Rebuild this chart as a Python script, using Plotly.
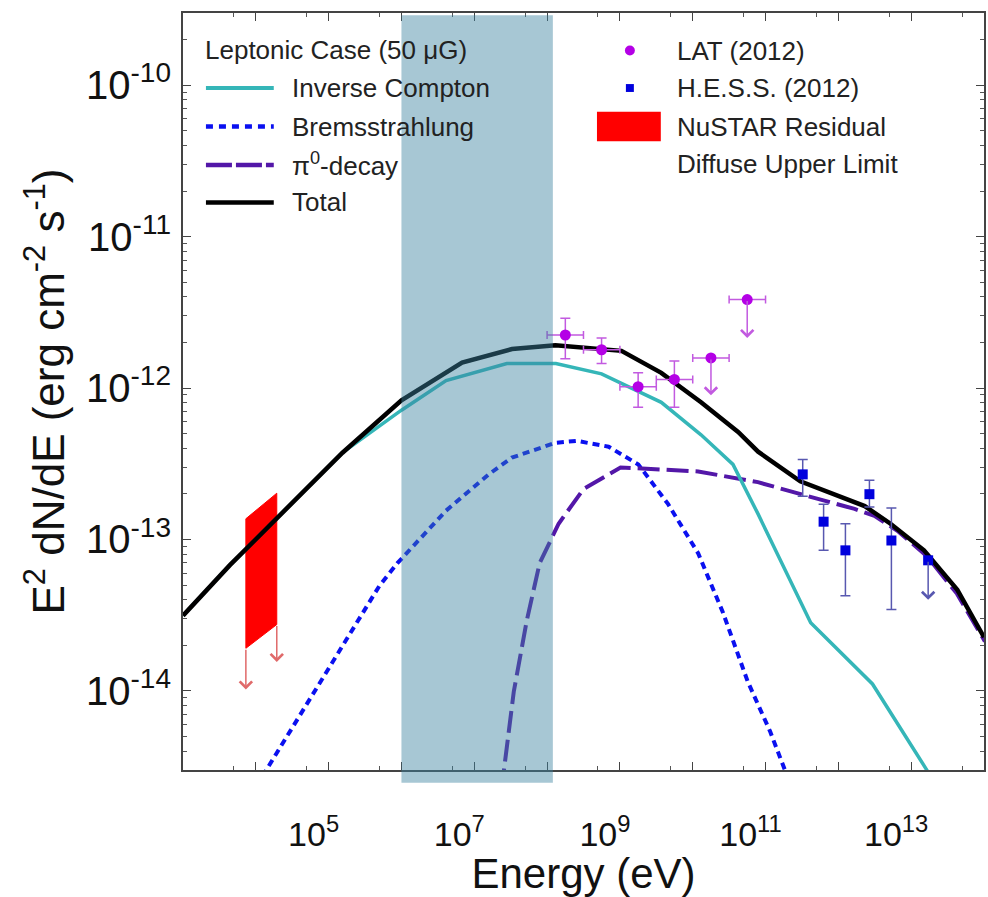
import numpy as np
import plotly.graph_objects as go

# ---------------- model spectra (E in eV, E^2 dN/dE in erg cm^-2 s^-1) ----------------
ic_e = [1.0e3, 4.4e3, 1.55e5, 1.0e6, 4.1e6, 2.8e7, 1.32e8, 5.6e8, 3.7e9, 1.3e10,
        3.57e10, 7.85e10, 4.17e11, 2.94e12, 1.66e13, 2.2e13]
ic_f = [3.14e-14, 6.76e-14, 3.74e-13, 7.14e-13, 1.12e-12, 1.45e-12, 1.45e-12, 1.24e-12,
        8.05e-13, 4.91e-13, 3.13e-13, 1.48e-13, 2.82e-14, 1.11e-14, 2.97e-15, 2.0e-15]

brems_e = [8.3e3, 1.37e4, 4.97e5, 8.8e5, 4.1e6, 1.58e7, 3.28e7, 1.31e8, 2.54e8, 6.97e8,
           1.79e9, 4.6e9, 1.19e10, 2.6e10, 5.7e10, 1.15e11, 1.84e11, 2.36e11]
brems_f = [2.0e-15, 2.97e-15, 4.93e-14, 6.97e-14, 1.55e-13, 2.69e-13, 3.47e-13, 4.35e-13,
           4.48e-13, 4.10e-13, 3.13e-13, 1.71e-13, 8.09e-14, 3.29e-14, 1.15e-14, 5.42e-15,
           2.97e-15, 2.2e-15]

pi0_e = [2.39e7, 2.55e7, 3.49e7, 5.26e7, 7.9e7, 1.44e8, 3.16e8, 1.02e9, 1.19e10, 7.85e10,
         3.04e11, 1.67e12, 3.13e12, 6.46e12, 1.66e13, 4.27e13, 1.03e14]
pi0_f = [2.2e-15, 2.97e-15, 9.9e-15, 2.91e-14, 6.97e-14, 1.27e-13, 2.15e-13, 2.99e-13,
         2.81e-13, 2.39e-13, 1.99e-13, 1.59e-13, 1.43e-13, 1.14e-13, 7.73e-14, 4.37e-14,
         2.12e-14]

total_e = [1.0e3, 4.4e3, 1.55e5, 1.0e6, 6.8e6, 3.3e7, 1.3e8, 1.05e9, 3.7e9, 1.3e10,
           4.2e10, 7.9e10, 3.0e11, 2.3e12, 5.2e12, 1.5e13, 4.3e13, 1.0e14]
total_f = [3.14e-14, 6.76e-14, 3.74e-13, 8.30e-13, 1.47e-12, 1.81e-12, 1.92e-12, 1.76e-12,
           1.26e-12, 8.05e-13, 5.13e-13, 3.80e-13, 2.42e-13, 1.66e-13, 1.27e-13, 8.47e-14,
           4.65e-14, 2.26e-14]

# ---------------- Fermi-LAT (2012) ----------------
lat_e = [1.78e8, 5.6e8, 1.78e9, 5.6e9, 1.78e10, 5.6e10]
lat_e_lo = [1.0e8, 3.16e8, 1.0e9, 3.16e9, 1.0e10, 3.16e10]
lat_e_hi = [3.16e8, 1.0e9, 3.16e9, 1.0e10, 3.16e10, 1.0e11]
lat_f = [2.24e-12, 1.79e-12, 1.02e-12, 1.14e-12, 1.58e-12, 3.84e-12]
lat_f_hi = [2.89e-12, 2.14e-12, 1.26e-12, 1.51e-12]      # detections only
lat_f_lo = [1.56e-12, 1.45e-12, 7.46e-13, 7.46e-13]
lat_ul_to = [8.95e-13, 2.14e-12]                          # arrow ends of the two limits

# ---------------- H.E.S.S. (2012) ----------------
hess_e = [3.24e11, 6.27e11, 1.25e12, 2.67e12, 5.35e12, 1.71e13]
hess_f = [2.69e-13, 1.31e-13, 8.47e-14, 1.99e-13, 9.84e-14, 7.28e-14]
hess_f_hi = [3.37e-13, 1.71e-13, 1.27e-13, 2.46e-13, 1.61e-13]
hess_f_lo = [1.93e-13, 8.47e-14, 4.25e-14, 1.64e-13, 3.44e-14]
hess_ul_to = [3.99e-14]

# ---------------- NuSTAR residual diffuse upper limit ----------------
nu_e = [7.3e3, 1.94e4]
nu_f_top = [1.37e-13, 2.02e-13]
nu_f_bot = [1.91e-14, 2.74e-14]
nu_ul_to = [1.02e-14, 1.55e-14]

# shaded energy band
band_e = [1.0e6, 1.2e8]

# tick labels
x_tick_exp = list(range(3, 15))
x_labelled = [5, 7, 9, 11, 13]
y_tick_exp = [-14, -13, -12, -11, -10]

# ---------------- styling ----------------
FONT = "Liberation Sans, Arial, Helvetica, sans-serif"
C_IC = "#35b6b8"
C_BREMS = "#0a10f0"
C_PI0 = "#5317a8"
C_TOT = "#000000"
C_LAT = "#b400e6"
C_LAT_BAR = "#c25ae0"
C_HESS = "#0000dd"
C_HESS_BAR = "#5858b0"
C_NU = "#ff0000"
C_NU_ARR = "#e06a6a"
TXT = "#222222"

# plot-area edges in page pixels (for legend placement)
L, R, T, B = 183, 986, 13, 780
W, H = 988, 897


def px(x):
    return (x - L) / (R - L)


def py(y):
    return (B - y) / (B - T)


fig = go.Figure()

# NuSTAR box
fig.add_trace(go.Scatter(
    x=[nu_e[0], nu_e[1], nu_e[1], nu_e[0], nu_e[0]],
    y=[nu_f_top[0], nu_f_top[1], nu_f_bot[1], nu_f_bot[0], nu_f_top[0]],
    fill="toself", fillcolor=C_NU, line=dict(color=C_NU, width=1),
    mode="lines", hoverinfo="skip", showlegend=False))

# model curves
fig.add_trace(go.Scatter(x=brems_e, y=brems_f, mode="lines",
                         line=dict(color=C_BREMS, width=4, dash="7px,5px"), showlegend=False))
fig.add_trace(go.Scatter(x=pi0_e, y=pi0_f, mode="lines",
                         line=dict(color=C_PI0, width=4, dash="22px,7px"), showlegend=False))
fig.add_trace(go.Scatter(x=ic_e, y=ic_f, mode="lines",
                         line=dict(color=C_IC, width=3.5), showlegend=False))
fig.add_trace(go.Scatter(x=total_e, y=total_f, mode="lines",
                         line=dict(color=C_TOT, width=4.5), showlegend=False))

# LAT detections
n_det = len(lat_f_hi)
fig.add_trace(go.Scatter(
    x=lat_e[:n_det], y=lat_f[:n_det], mode="markers",
    marker=dict(symbol="circle", size=11, color=C_LAT),
    error_x=dict(type="data", symmetric=False,
                 array=[h - e for h, e in zip(lat_e_hi[:n_det], lat_e[:n_det])],
                 arrayminus=[e - lo for e, lo in zip(lat_e[:n_det], lat_e_lo[:n_det])],
                 color=C_LAT_BAR, thickness=1.5, width=4),
    error_y=dict(type="data", symmetric=False,
                 array=[h - f for h, f in zip(lat_f_hi, lat_f[:n_det])],
                 arrayminus=[f - lo for f, lo in zip(lat_f[:n_det], lat_f_lo)],
                 color=C_LAT_BAR, thickness=1.5, width=5),
    showlegend=False))
# LAT upper limits
fig.add_trace(go.Scatter(
    x=lat_e[n_det:], y=lat_f[n_det:], mode="markers",
    marker=dict(symbol="circle", size=11, color=C_LAT),
    error_x=dict(type="data", symmetric=False,
                 array=[h - e for h, e in zip(lat_e_hi[n_det:], lat_e[n_det:])],
                 arrayminus=[e - lo for e, lo in zip(lat_e[n_det:], lat_e_lo[n_det:])],
                 color=C_LAT_BAR, thickness=1.5, width=4),
    showlegend=False))

# H.E.S.S. detections
h_det = len(hess_f_hi)
fig.add_trace(go.Scatter(
    x=hess_e[:h_det], y=hess_f[:h_det], mode="markers",
    marker=dict(symbol="square", size=10, color=C_HESS),
    error_y=dict(type="data", symmetric=False,
                 array=[h - f for h, f in zip(hess_f_hi, hess_f[:h_det])],
                 arrayminus=[f - lo for f, lo in zip(hess_f[:h_det], hess_f_lo)],
                 color=C_HESS_BAR, thickness=1.5, width=5),
    showlegend=False))
fig.add_trace(go.Scatter(
    x=hess_e[h_det:], y=hess_f[h_det:], mode="markers",
    marker=dict(symbol="square", size=10, color=C_HESS), showlegend=False))

annotations = []


def ul_arrow(e, f_from, f_to, color):
    return dict(x=np.log10(e), y=np.log10(f_to), ax=np.log10(e), ay=np.log10(f_from),
                xref="x", yref="y", axref="x", ayref="y", text="", showarrow=True,
                arrowhead=4, arrowsize=1.6, arrowwidth=1.5, arrowcolor=color)


for e, f0, f1 in zip(lat_e[n_det:], lat_f[n_det:], lat_ul_to):
    annotations.append(ul_arrow(e, f0, f1, C_LAT_BAR))
for e, f0, f1 in zip(hess_e[h_det:], hess_f[h_det:], hess_ul_to):
    annotations.append(ul_arrow(e, f0, f1, C_HESS_BAR))
for e, f0, f1 in zip(nu_e, nu_f_bot, nu_ul_to):
    annotations.append(ul_arrow(e, f0, f1, C_NU_ARR))

shapes = []
# translucent energy band drawn over the curves
shapes.append(dict(type="rect", xref="x", yref="paper", x0=band_e[0], x1=band_e[1],
                   y0=-0.017, y1=0.997, fillcolor="rgba(60,131,160,0.45)",
                   line=dict(width=0), layer="above"))

# ---- legend (left block: model components) ----
def legend_text(x, y, text):
    annotations.append(dict(x=px(x), y=py(y), xref="paper", yref="paper", text=text,
                            showarrow=False, xanchor="left", yanchor="middle",
                            font=dict(family=FONT, size=26, color=TXT)))


legend_text(203, 50, "Leptonic Case (50 \u03bcG)")
rows = [(89, "Inverse Compton", C_IC, "solid", 4),
        (128, "Bremsstrahlung", C_BREMS, "7px,6px", 4.5),
        (167, "\u03c0<sup>0</sup>-decay", C_PI0, "26px,4px", 4.5),
        (205, "Total", C_TOT, "solid", 4.5)]
for y, label, col, dash, wd in rows:
    shapes.append(dict(type="line", xref="paper", yref="paper",
                       x0=px(206), x1=px(274), y0=py(y), y1=py(y),
                       line=dict(color=col, width=wd, dash=dash)))
    legend_text(290, y, label)

# ---- legend (right block: data) ----
shapes.append(dict(type="circle", xref="paper", yref="paper",
                   x0=px(626), x1=px(636), y0=py(56), y1=py(46),
                   fillcolor=C_LAT, line=dict(width=0)))
legend_text(676, 51, "LAT (2012)")
shapes.append(dict(type="rect", xref="paper", yref="paper",
                   x0=px(627), x1=px(635), y0=py(93), y1=py(85),
                   fillcolor=C_HESS, line=dict(width=0)))
legend_text(676, 89, "H.E.S.S. (2012)")
shapes.append(dict(type="rect", xref="paper", yref="paper",
                   x0=px(598), x1=px(662), y0=py(143), y1=py(113),
                   fillcolor=C_NU, line=dict(width=0)))
legend_text(676, 128, "NuSTAR Residual")
legend_text(676, 166, "Diffuse Upper Limit")

fig.update_layout(
    width=W, height=H,
    margin=dict(l=L, r=W - R, t=T, b=H - B),
    paper_bgcolor="white", plot_bgcolor="white",
    font=dict(family=FONT, color=TXT),
    shapes=shapes, annotations=annotations,
    showlegend=False,
)

fig.update_xaxes(
    type="log", range=[3, 14],
    tickvals=[10.0 ** k for k in x_tick_exp],
    ticktext=[f"10<sup>{k}</sup>" if k in x_labelled else "" for k in x_tick_exp],
    ticks="inside", ticklen=8, tickwidth=1.2, tickcolor="#444",
    minor=dict(ticks="inside", ticklen=4, tickcolor="#555",
               tickvals=[5 * 10.0 ** k for k in x_tick_exp]),
    tickfont=dict(family=FONT, size=34, color="#111"),
    ticklabelstandoff=33, ticklabelshift=-15,
    showline=True, linecolor="#444", linewidth=2, mirror="ticks",
    showgrid=False, zeroline=False,
    title=dict(text="Energy (eV)", font=dict(family=FONT, size=42, color="#111"),
               standoff=13),
)
fig.update_yaxes(
    type="log", range=[np.log10(3e-15), np.log10(3e-10)],
    tickvals=[10.0 ** k for k in y_tick_exp],
    ticktext=[f"10<sup>{k}</sup>" for k in y_tick_exp],
    ticks="inside", ticklen=8, tickwidth=1.2, tickcolor="#444",
    minor=dict(ticks="inside", ticklen=4, tickcolor="#555",
               tickvals=[m * 10.0 ** k for k in range(-15, -9) for m in range(2, 10)]),
    tickfont=dict(family=FONT, size=40, color="#111"),
    ticklabelstandoff=2,
    showline=True, linecolor="#444", linewidth=2, mirror="ticks",
    showgrid=False, zeroline=False,
    title=dict(text="E<sup>2</sup> dN/dE (erg cm<sup>-2</sup> s<sup>-1</sup>)",
               font=dict(family=FONT, size=44, color="#111"), standoff=8),
)

fig.write_html("out.html")
